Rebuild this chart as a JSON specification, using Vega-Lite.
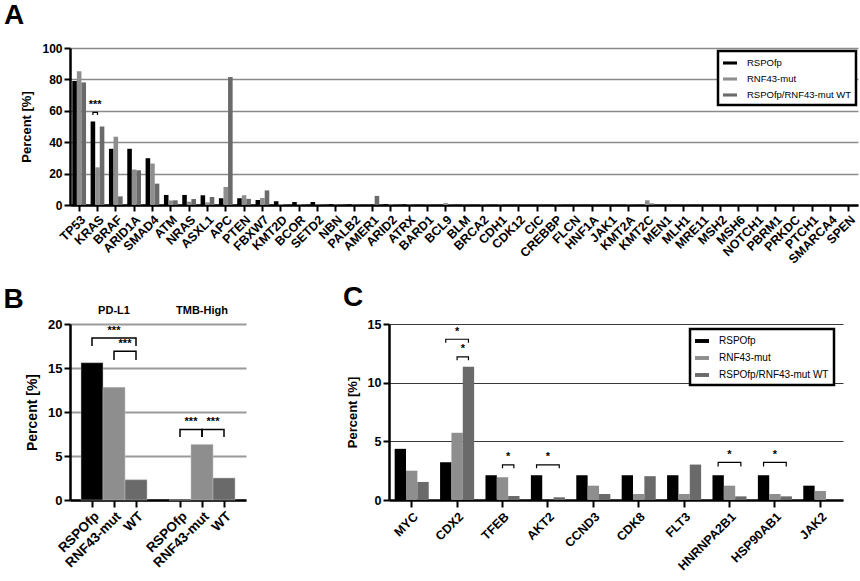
{
"$schema": "https://vega.github.io/schema/vega-lite/v6.json",
"autosize": {"type": "pad"},
"padding": {"left": 3, "top": 2, "right": 2, "bottom": 2},
"background": "white",
"config": {
  "font": "Liberation Sans",
  "view": {"stroke": null},
  "legend": {"strokeWidth": 2.5},
  "axis": {"labelColor": "black", "titleColor": "black", "domainColor": "black", "tickColor": "black", "labelFont": "Liberation Sans", "titleFont": "Liberation Sans", "zindex": 1}
},
"datasets": {
  "A": [
    {"g":"TP53","s":"RSPOfp","v":79},{"g":"TP53","s":"RNF43-mut","v":85.2},{"g":"TP53","s":"RSPOfp/RNF43-mut WT","v":78.1},
    {"g":"KRAS","s":"RSPOfp","v":53.2},{"g":"KRAS","s":"RNF43-mut","v":24},{"g":"KRAS","s":"RSPOfp/RNF43-mut WT","v":50},
    {"g":"BRAF","s":"RSPOfp","v":35.8},{"g":"BRAF","s":"RNF43-mut","v":43.5},{"g":"BRAF","s":"RSPOfp/RNF43-mut WT","v":5.5},
    {"g":"ARID1A","s":"RSPOfp","v":35.8},{"g":"ARID1A","s":"RNF43-mut","v":22.6},{"g":"ARID1A","s":"RSPOfp/RNF43-mut WT","v":22.1},
    {"g":"SMAD4","s":"RSPOfp","v":29.8},{"g":"SMAD4","s":"RNF43-mut","v":26.4},{"g":"SMAD4","s":"RSPOfp/RNF43-mut WT","v":13.6},
    {"g":"ATM","s":"RSPOfp","v":6.4},{"g":"ATM","s":"RNF43-mut","v":2.9},{"g":"ATM","s":"RSPOfp/RNF43-mut WT","v":3},
    {"g":"NRAS","s":"RSPOfp","v":6.4},{"g":"NRAS","s":"RNF43-mut","v":2.1},{"g":"NRAS","s":"RSPOfp/RNF43-mut WT","v":3.8},
    {"g":"ASXL1","s":"RSPOfp","v":6.2},{"g":"ASXL1","s":"RNF43-mut","v":1.7},{"g":"ASXL1","s":"RSPOfp/RNF43-mut WT","v":5.1},
    {"g":"APC","s":"RSPOfp","v":4.3},{"g":"APC","s":"RNF43-mut","v":11.5},{"g":"APC","s":"RSPOfp/RNF43-mut WT","v":81.5},
    {"g":"PTEN","s":"RSPOfp","v":4.3},{"g":"PTEN","s":"RNF43-mut","v":6.2},{"g":"PTEN","s":"RSPOfp/RNF43-mut WT","v":3.9},
    {"g":"FBXW7","s":"RSPOfp","v":3.2},{"g":"FBXW7","s":"RNF43-mut","v":4.5},{"g":"FBXW7","s":"RSPOfp/RNF43-mut WT","v":9.3},
    {"g":"KMT2D","s":"RSPOfp","v":2.4},{"g":"KMT2D","s":"RNF43-mut","v":0.6},{"g":"KMT2D","s":"RSPOfp/RNF43-mut WT","v":0.3},
    {"g":"BCOR","s":"RSPOfp","v":1.9},{"g":"BCOR","s":"RNF43-mut","v":0.5},{"g":"BCOR","s":"RSPOfp/RNF43-mut WT","v":0.3},
    {"g":"SETD2","s":"RSPOfp","v":1.9},{"g":"SETD2","s":"RNF43-mut","v":0.4},{"g":"SETD2","s":"RSPOfp/RNF43-mut WT","v":0.3},
    {"g":"NBN","s":"RSPOfp","v":0.5},{"g":"NBN","s":"RNF43-mut","v":0.3},{"g":"NBN","s":"RSPOfp/RNF43-mut WT","v":0.2},
    {"g":"PALB2","s":"RSPOfp","v":0.4},{"g":"PALB2","s":"RNF43-mut","v":0.3},{"g":"PALB2","s":"RSPOfp/RNF43-mut WT","v":0.2},
    {"g":"AMER1","s":"RSPOfp","v":0},{"g":"AMER1","s":"RNF43-mut","v":0},{"g":"AMER1","s":"RSPOfp/RNF43-mut WT","v":5.8},
    {"g":"ARID2","s":"RSPOfp","v":0.5},{"g":"ARID2","s":"RNF43-mut","v":0.4},{"g":"ARID2","s":"RSPOfp/RNF43-mut WT","v":0.2},
    {"g":"ATRX","s":"RSPOfp","v":0.3},{"g":"ATRX","s":"RNF43-mut","v":0.3},{"g":"ATRX","s":"RSPOfp/RNF43-mut WT","v":0.2},
    {"g":"BARD1","s":"RSPOfp","v":0},{"g":"BARD1","s":"RNF43-mut","v":0.2},{"g":"BARD1","s":"RSPOfp/RNF43-mut WT","v":0.1},
    {"g":"BCL9","s":"RSPOfp","v":0},{"g":"BCL9","s":"RNF43-mut","v":1.2},{"g":"BCL9","s":"RSPOfp/RNF43-mut WT","v":0.3},
    {"g":"BLM","s":"RSPOfp","v":0},{"g":"BLM","s":"RNF43-mut","v":0.2},{"g":"BLM","s":"RSPOfp/RNF43-mut WT","v":0.1},
    {"g":"BRCA2","s":"RSPOfp","v":0},{"g":"BRCA2","s":"RNF43-mut","v":0.3},{"g":"BRCA2","s":"RSPOfp/RNF43-mut WT","v":0.2},
    {"g":"CDH1","s":"RSPOfp","v":0},{"g":"CDH1","s":"RNF43-mut","v":0.3},{"g":"CDH1","s":"RSPOfp/RNF43-mut WT","v":0.1},
    {"g":"CDK12","s":"RSPOfp","v":0},{"g":"CDK12","s":"RNF43-mut","v":0.1},{"g":"CDK12","s":"RSPOfp/RNF43-mut WT","v":0.1},
    {"g":"CIC","s":"RSPOfp","v":0},{"g":"CIC","s":"RNF43-mut","v":0.1},{"g":"CIC","s":"RSPOfp/RNF43-mut WT","v":0.1},
    {"g":"CREBBP","s":"RSPOfp","v":0},{"g":"CREBBP","s":"RNF43-mut","v":0.3},{"g":"CREBBP","s":"RSPOfp/RNF43-mut WT","v":0.2},
    {"g":"FLCN","s":"RSPOfp","v":0},{"g":"FLCN","s":"RNF43-mut","v":0.1},{"g":"FLCN","s":"RSPOfp/RNF43-mut WT","v":0.1},
    {"g":"HNF1A","s":"RSPOfp","v":0},{"g":"HNF1A","s":"RNF43-mut","v":0.1},{"g":"HNF1A","s":"RSPOfp/RNF43-mut WT","v":0.1},
    {"g":"JAK1","s":"RSPOfp","v":0},{"g":"JAK1","s":"RNF43-mut","v":0.1},{"g":"JAK1","s":"RSPOfp/RNF43-mut WT","v":0.1},
    {"g":"KMT2A","s":"RSPOfp","v":0},{"g":"KMT2A","s":"RNF43-mut","v":0.3},{"g":"KMT2A","s":"RSPOfp/RNF43-mut WT","v":0.2},
    {"g":"KMT2C","s":"RSPOfp","v":0},{"g":"KMT2C","s":"RNF43-mut","v":3.0},{"g":"KMT2C","s":"RSPOfp/RNF43-mut WT","v":1.0},
    {"g":"MEN1","s":"RSPOfp","v":0},{"g":"MEN1","s":"RNF43-mut","v":0.1},{"g":"MEN1","s":"RSPOfp/RNF43-mut WT","v":0.1},
    {"g":"MLH1","s":"RSPOfp","v":0},{"g":"MLH1","s":"RNF43-mut","v":0.1},{"g":"MLH1","s":"RSPOfp/RNF43-mut WT","v":0.1},
    {"g":"MRE11","s":"RSPOfp","v":0},{"g":"MRE11","s":"RNF43-mut","v":0.1},{"g":"MRE11","s":"RSPOfp/RNF43-mut WT","v":0.1},
    {"g":"MSH2","s":"RSPOfp","v":0},{"g":"MSH2","s":"RNF43-mut","v":0.1},{"g":"MSH2","s":"RSPOfp/RNF43-mut WT","v":0.1},
    {"g":"MSH6","s":"RSPOfp","v":0},{"g":"MSH6","s":"RNF43-mut","v":0.1},{"g":"MSH6","s":"RSPOfp/RNF43-mut WT","v":0.1},
    {"g":"NOTCH1","s":"RSPOfp","v":0},{"g":"NOTCH1","s":"RNF43-mut","v":0.1},{"g":"NOTCH1","s":"RSPOfp/RNF43-mut WT","v":0.1},
    {"g":"PBRM1","s":"RSPOfp","v":0},{"g":"PBRM1","s":"RNF43-mut","v":0.1},{"g":"PBRM1","s":"RSPOfp/RNF43-mut WT","v":0.1},
    {"g":"PRKDC","s":"RSPOfp","v":0},{"g":"PRKDC","s":"RNF43-mut","v":0.1},{"g":"PRKDC","s":"RSPOfp/RNF43-mut WT","v":0.1},
    {"g":"PTCH1","s":"RSPOfp","v":0},{"g":"PTCH1","s":"RNF43-mut","v":0.1},{"g":"PTCH1","s":"RSPOfp/RNF43-mut WT","v":0.1},
    {"g":"SMARCA4","s":"RSPOfp","v":0},{"g":"SMARCA4","s":"RNF43-mut","v":0.1},{"g":"SMARCA4","s":"RSPOfp/RNF43-mut WT","v":0.1},
    {"g":"SPEN","s":"RSPOfp","v":0},{"g":"SPEN","s":"RNF43-mut","v":0.1},{"g":"SPEN","s":"RSPOfp/RNF43-mut WT","v":0.1}
  ],
  "Abr": [
    {"g":"KRAS","s":"RSPOfp","v":57.3,"b":1,"o":1},{"g":"KRAS","s":"RSPOfp","v":59,"b":1,"o":2},
    {"g":"KRAS","s":"RNF43-mut","v":59,"b":1,"o":3},{"g":"KRAS","s":"RNF43-mut","v":57.3,"b":1,"o":4}
  ],
  "Ast": [{"g":"KRAS","s":"RNF43-mut","v":61.5,"t":"***"}],
  "B": [
    {"k":"PD-L1|RSPOfp","s":"RSPOfp","v":15.6},
    {"k":"PD-L1|RNF43-mut","s":"RNF43-mut","v":12.8},
    {"k":"PD-L1|WT","s":"RSPOfp/RNF43-mut WT","v":2.3},
    {"k":"TMB-High|RSPOfp","s":"RSPOfp","v":0},
    {"k":"TMB-High|RNF43-mut","s":"RNF43-mut","v":6.3},
    {"k":"TMB-High|WT","s":"RSPOfp/RNF43-mut WT","v":2.5}
  ],
  "Bbr": [
    {"k":"PD-L1|RSPOfp","v":17.5,"b":1,"o":1},{"k":"PD-L1|RSPOfp","v":18.4,"b":1,"o":2},{"k":"PD-L1|WT","v":18.4,"b":1,"o":3},{"k":"PD-L1|WT","v":17.5,"b":1,"o":4},
    {"k":"PD-L1|RNF43-mut","v":15.9,"b":2,"o":1},{"k":"PD-L1|RNF43-mut","v":16.9,"b":2,"o":2},{"k":"PD-L1|WT","v":16.9,"b":2,"o":3},{"k":"PD-L1|WT","v":15.9,"b":2,"o":4},
    {"k":"TMB-High|RSPOfp","v":7.15,"b":3,"o":1},{"k":"TMB-High|RSPOfp","v":8.0,"b":3,"o":2},{"k":"TMB-High|RNF43-mut","v":8.0,"b":3,"o":3},{"k":"TMB-High|RNF43-mut","v":7.15,"b":3,"o":4},
    {"k":"TMB-High|RNF43-mut","v":7.15,"b":4,"o":1},{"k":"TMB-High|RNF43-mut","v":8.0,"b":4,"o":2},{"k":"TMB-High|WT","v":8.0,"b":4,"o":3},{"k":"TMB-High|WT","v":7.15,"b":4,"o":4}
  ],
  "Bst": [
    {"k":"PD-L1|RNF43-mut","v":18.9,"t":"***","p":"c"},
    {"k":"PD-L1|RNF43-mut","v":17.4,"t":"***","p":"r"},
    {"k":"TMB-High|RNF43-mut","v":8.5,"t":"***","p":"l"},
    {"k":"TMB-High|RNF43-mut","v":8.5,"t":"***","p":"r"}
  ],
  "Bhd": [
    {"k":"PD-L1|RNF43-mut","v":21.5,"t":"PD-L1"},
    {"k":"TMB-High|RNF43-mut","v":21.5,"t":"TMB-High"}
  ],
  "C": [
    {"g":"MYC","s":"RSPOfp","v":4.36},{"g":"MYC","s":"RNF43-mut","v":2.5},{"g":"MYC","s":"RSPOfp/RNF43-mut WT","v":1.54},
    {"g":"CDX2","s":"RSPOfp","v":3.22},{"g":"CDX2","s":"RNF43-mut","v":5.73},{"g":"CDX2","s":"RSPOfp/RNF43-mut WT","v":11.35},
    {"g":"TFEB","s":"RSPOfp","v":2.11},{"g":"TFEB","s":"RNF43-mut","v":1.94},{"g":"TFEB","s":"RSPOfp/RNF43-mut WT","v":0.34},
    {"g":"AKT2","s":"RSPOfp","v":2.11},{"g":"AKT2","s":"RNF43-mut","v":0},{"g":"AKT2","s":"RSPOfp/RNF43-mut WT","v":0.23},
    {"g":"CCND3","s":"RSPOfp","v":2.11},{"g":"CCND3","s":"RNF43-mut","v":1.22},{"g":"CCND3","s":"RSPOfp/RNF43-mut WT","v":0.51},
    {"g":"CDK8","s":"RSPOfp","v":2.11},{"g":"CDK8","s":"RNF43-mut","v":0.51},{"g":"CDK8","s":"RSPOfp/RNF43-mut WT","v":2.03},
    {"g":"FLT3","s":"RSPOfp","v":2.11},{"g":"FLT3","s":"RNF43-mut","v":0.51},{"g":"FLT3","s":"RSPOfp/RNF43-mut WT","v":3.02},
    {"g":"HNRNPA2B1","s":"RSPOfp","v":2.11},{"g":"HNRNPA2B1","s":"RNF43-mut","v":1.22},{"g":"HNRNPA2B1","s":"RSPOfp/RNF43-mut WT","v":0.31},
    {"g":"HSP90AB1","s":"RSPOfp","v":2.11},{"g":"HSP90AB1","s":"RNF43-mut","v":0.51},{"g":"HSP90AB1","s":"RSPOfp/RNF43-mut WT","v":0.31},
    {"g":"JAK2","s":"RSPOfp","v":1.22},{"g":"JAK2","s":"RNF43-mut","v":0.77},{"g":"JAK2","s":"RSPOfp/RNF43-mut WT","v":0}
  ],
  "Cbr": [
    {"g":"CDX2","s":"RSPOfp","v":13.4,"b":1,"o":1},{"g":"CDX2","s":"RSPOfp","v":13.7,"b":1,"o":2},{"g":"CDX2","s":"RSPOfp/RNF43-mut WT","v":13.7,"b":1,"o":3},{"g":"CDX2","s":"RSPOfp/RNF43-mut WT","v":13.4,"b":1,"o":4},
    {"g":"CDX2","s":"RNF43-mut","v":11.9,"b":2,"o":1},{"g":"CDX2","s":"RNF43-mut","v":12.2,"b":2,"o":2},{"g":"CDX2","s":"RSPOfp/RNF43-mut WT","v":12.2,"b":2,"o":3},{"g":"CDX2","s":"RSPOfp/RNF43-mut WT","v":11.9,"b":2,"o":4},
    {"g":"TFEB","s":"RNF43-mut","v":2.7,"b":3,"o":1},{"g":"TFEB","s":"RNF43-mut","v":3.0,"b":3,"o":2},{"g":"TFEB","s":"RSPOfp/RNF43-mut WT","v":3.0,"b":3,"o":3},{"g":"TFEB","s":"RSPOfp/RNF43-mut WT","v":2.7,"b":3,"o":4},
    {"g":"AKT2","s":"RSPOfp","v":2.7,"b":4,"o":1},{"g":"AKT2","s":"RSPOfp","v":3.0,"b":4,"o":2},{"g":"AKT2","s":"RSPOfp/RNF43-mut WT","v":3.0,"b":4,"o":3},{"g":"AKT2","s":"RSPOfp/RNF43-mut WT","v":2.7,"b":4,"o":4},
    {"g":"HNRNPA2B1","s":"RSPOfp","v":2.85,"b":5,"o":1},{"g":"HNRNPA2B1","s":"RSPOfp","v":3.2,"b":5,"o":2},{"g":"HNRNPA2B1","s":"RSPOfp/RNF43-mut WT","v":3.2,"b":5,"o":3},{"g":"HNRNPA2B1","s":"RSPOfp/RNF43-mut WT","v":2.85,"b":5,"o":4},
    {"g":"HSP90AB1","s":"RSPOfp","v":2.85,"b":6,"o":1},{"g":"HSP90AB1","s":"RSPOfp","v":3.2,"b":6,"o":2},{"g":"HSP90AB1","s":"RSPOfp/RNF43-mut WT","v":3.2,"b":6,"o":3},{"g":"HSP90AB1","s":"RSPOfp/RNF43-mut WT","v":2.85,"b":6,"o":4}
  ],
  "Cst": [
    {"g":"CDX2","s":"RNF43-mut","v":14.1,"t":"*","p":"c"},
    {"g":"CDX2","s":"RNF43-mut","v":12.6,"t":"*","p":"r"},
    {"g":"TFEB","s":"RNF43-mut","v":3.4,"t":"*","p":"r"},
    {"g":"AKT2","s":"RNF43-mut","v":3.4,"t":"*","p":"c"},
    {"g":"HNRNPA2B1","s":"RNF43-mut","v":3.55,"t":"*","p":"c"},
    {"g":"HSP90AB1","s":"RNF43-mut","v":3.55,"t":"*","p":"c"}
  ]
},
"bounds": "flush",
"spacing": 119,
"resolve": {"scale": {"color": "independent", "x": "independent", "y": "independent", "xOffset": "independent"}, "legend": {"color": "independent"}},
"vconcat": [
  {
    "width": 788, "height": 157,
    "title": {"text": "A", "anchor": "start", "frame": "bounds", "fontSize": 28, "fontWeight": "bold", "font": "Liberation Sans", "color": "black", "offset": 12, "dx": -17},
    "encoding": {
      "x": {"field": "g", "type": "nominal", "sort": null, "scale": {"paddingInner": 0.25, "paddingOuter": 0.125},
        "axis": {"title": null, "labelAngle": -45, "labelFontSize": 12.5, "labelFontWeight": "bold", "labelOverlap": false, "labelPadding": 2, "domainWidth": 2.5, "tickWidth": 2, "tickSize": 6, "grid": false}},
      "xOffset": {"field": "s", "type": "nominal", "scale": {"domain": ["RSPOfp", "RNF43-mut", "RSPOfp/RNF43-mut WT"], "paddingInner": 0, "paddingOuter": 0}},
      "y": {"field": "v", "type": "quantitative", "scale": {"domain": [0, 100]},
        "axis": {"title": "Percent [%]", "titleFontSize": 13, "titleFontWeight": "bold", "titlePadding": 8, "values": [0, 20, 40, 60, 80, 100], "labelFontSize": 12, "labelFontWeight": "bold", "domainWidth": 2.5, "tickWidth": 2, "tickSize": 6, "grid": true, "gridColor": "#8a8a8a", "gridWidth": 1.5}}
    },
    "layer": [
      {
        "data": {"name": "A"},
        "mark": {"type": "bar"},
        "encoding": {
          "color": {"field": "s", "type": "nominal", "scale": {"domain": ["RSPOfp", "RNF43-mut", "RSPOfp/RNF43-mut WT"], "range": ["#000000", "#8e8e8e", "#6a6a6a"]},
            "legend": {"title": null, "orient": "none", "legendX": 648, "legendY": 3, "direction": "vertical", "symbolType": "M-1,-0.22H1V0.22H-1Z", "symbolSize": 196, "symbolStrokeWidth": 0, "labelFontSize": 9.5, "labelFont": "Liberation Sans", "labelColor": "black", "strokeColor": "black", "fillColor": "white", "padding": 5, "rowPadding": 4, "labelOffset": 10}}
        }
      },
      {
        "data": {"name": "Abr"},
        "mark": {"type": "line", "color": "black", "strokeWidth": 1.2},
        "encoding": {"detail": {"field": "b"}, "order": {"field": "o"}}
      },
      {
        "data": {"name": "Ast"},
        "mark": {"type": "text", "fontSize": 11, "fontWeight": "bold", "color": "black", "dx": -2.3, "baseline": "alphabetic"},
        "encoding": {"text": {"field": "t"}}
      }
    ]
  },
  {
    "bounds": "flush",
    "spacing": 143,
    "resolve": {"scale": {"color": "independent", "x": "independent", "y": "independent", "xOffset": "independent"}, "legend": {"color": "independent"}},
    "hconcat": [
      {
        "width": 176, "height": 176,
        "title": {"text": "B", "anchor": "start", "frame": "bounds", "fontSize": 28, "fontWeight": "bold", "font": "Liberation Sans", "color": "black", "offset": 0, "dx": -22, "dy": 9},
        "encoding": {
          "x": {"field": "k", "type": "nominal", "scale": {"domain": ["PD-L1|RSPOfp", "PD-L1|RNF43-mut", "PD-L1|WT", "gap", "TMB-High|RSPOfp", "TMB-High|RNF43-mut", "TMB-High|WT"], "paddingInner": 0, "paddingOuter": 0.5},
            "axis": {"title": null, "values": ["PD-L1|RSPOfp", "PD-L1|RNF43-mut", "PD-L1|WT", "TMB-High|RSPOfp", "TMB-High|RNF43-mut", "TMB-High|WT"], "labelExpr": "split(datum.value, '|')[1]", "labelAngle": -45, "labelFontSize": 13.5, "labelFontWeight": "bold", "labelOverlap": false, "labelPadding": 2, "domainWidth": 2.5, "tickWidth": 2, "tickSize": 7, "grid": false}},
          "y": {"field": "v", "type": "quantitative", "scale": {"domain": [0, 20]},
            "axis": {"title": "Percent [%]", "titleFontSize": 14, "titleFontWeight": "bold", "titlePadding": 8, "values": [0, 5, 10, 15, 20], "labelFontSize": 13, "labelFontWeight": "bold", "domainWidth": 2.5, "tickWidth": 2, "tickSize": 6, "grid": true, "gridColor": "#9a9a9a", "gridWidth": 2}}
        },
        "layer": [
          {
            "data": {"name": "B"},
            "mark": {"type": "bar", "stroke": "#bdbdbd", "strokeWidth": 0.5},
            "encoding": {"color": {"field": "s", "type": "nominal", "scale": {"domain": ["RSPOfp", "RNF43-mut", "RSPOfp/RNF43-mut WT"], "range": ["#000000", "#8e8e8e", "#6a6a6a"]}, "legend": null}}
          },
          {
            "data": {"name": "Bbr"},
            "mark": {"type": "line", "color": "black", "strokeWidth": 1.5},
            "encoding": {"detail": {"field": "b"}, "order": {"field": "o"}}
          },
          {
            "data": {"name": "Bst"},
            "transform": [{"filter": "datum.p == 'c'"}],
            "mark": {"type": "text", "fontSize": 11, "fontWeight": "bold", "color": "black", "baseline": "alphabetic"},
            "encoding": {"text": {"field": "t"}}
          },
          {
            "data": {"name": "Bst"},
            "transform": [{"filter": "datum.p == 'r'"}],
            "mark": {"type": "text", "fontSize": 11, "fontWeight": "bold", "color": "black", "baseline": "alphabetic", "dx": 11},
            "encoding": {"text": {"field": "t"}}
          },
          {
            "data": {"name": "Bst"},
            "transform": [{"filter": "datum.p == 'l'"}],
            "mark": {"type": "text", "fontSize": 11, "fontWeight": "bold", "color": "black", "baseline": "alphabetic", "dx": -11},
            "encoding": {"text": {"field": "t"}}
          },
          {
            "data": {"name": "Bhd"},
            "mark": {"type": "text", "fontSize": 11, "fontWeight": "bold", "color": "black", "baseline": "middle"},
            "encoding": {"text": {"field": "t"}}
          }
        ]
      },
      {
        "width": 454, "height": 176,
        "title": {"text": "C", "anchor": "start", "frame": "bounds", "fontSize": 28, "fontWeight": "bold", "font": "Liberation Sans", "color": "black", "offset": 6, "dx": -3},
        "encoding": {
          "x": {"field": "g", "type": "nominal", "sort": null, "scale": {"paddingInner": 0.25, "paddingOuter": 0.125},
            "axis": {"title": null, "labelAngle": -45, "labelFontSize": 12.5, "labelFontWeight": "bold", "labelOverlap": false, "labelPadding": 3, "domainWidth": 2.5, "tickWidth": 2, "tickSize": 7, "grid": false}},
          "xOffset": {"field": "s", "type": "nominal", "scale": {"domain": ["RSPOfp", "RNF43-mut", "RSPOfp/RNF43-mut WT"], "paddingInner": 0, "paddingOuter": 0}},
          "y": {"field": "v", "type": "quantitative", "scale": {"domain": [0, 15]},
            "axis": {"title": "Percent [%]", "titleFontSize": 13, "titleFontWeight": "bold", "titlePadding": 8, "values": [0, 5, 10, 15], "labelFontSize": 12.5, "labelFontWeight": "bold", "domainWidth": 2.5, "tickWidth": 2, "tickSize": 6, "grid": true, "gridColor": "#3a3a3a", "gridWidth": 1.2}}
        },
        "layer": [
          {
            "data": {"name": "C"},
            "mark": {"type": "bar"},
            "encoding": {
              "color": {"field": "s", "type": "nominal", "scale": {"domain": ["RSPOfp", "RNF43-mut", "RSPOfp/RNF43-mut WT"], "range": ["#000000", "#8e8e8e", "#6a6a6a"]},
                "legend": {"title": null, "orient": "none", "legendX": 301, "legendY": 5, "direction": "vertical", "symbolType": "M-1,-0.28H1V0.28H-1Z", "symbolSize": 196, "symbolStrokeWidth": 0, "labelFontSize": 10, "labelFont": "Liberation Sans", "labelColor": "black", "strokeColor": "black", "fillColor": "white", "padding": 5, "rowPadding": 5, "labelOffset": 10}}
            }
          },
          {
            "data": {"name": "Cbr"},
            "mark": {"type": "line", "color": "black", "strokeWidth": 1.2},
            "encoding": {"detail": {"field": "b"}, "order": {"field": "o"}}
          },
          {
            "data": {"name": "Cst"},
            "transform": [{"filter": "datum.p == 'c'"}],
            "mark": {"type": "text", "fontSize": 11, "fontWeight": "bold", "color": "black", "baseline": "alphabetic"},
            "encoding": {"text": {"field": "t"}}
          },
          {
            "data": {"name": "Cst"},
            "transform": [{"filter": "datum.p == 'r'"}],
            "mark": {"type": "text", "fontSize": 11, "fontWeight": "bold", "color": "black", "baseline": "alphabetic", "dx": 5.7},
            "encoding": {"text": {"field": "t"}}
          }
        ]
      }
    ]
  }
]
}
